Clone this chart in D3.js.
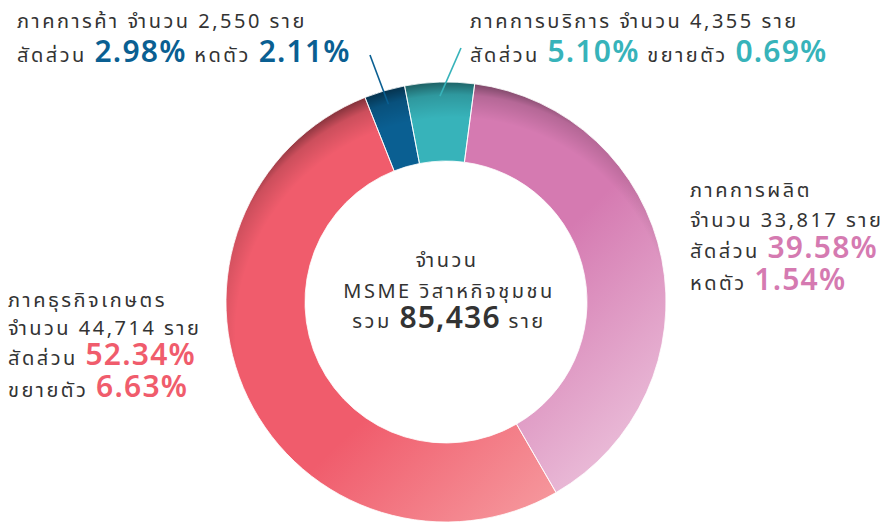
<!DOCTYPE html>
<html>
<head>
<meta charset="utf-8">
<script src="https://cdn.jsdelivr.net/npm/d3@7"></script>
<style>
  body { margin: 0; background: #fff; }
  svg text { font-family: "Noto Sans Thai", "Noto Sans Thai Looped", "Noto Sans", sans-serif; fill: #333; letter-spacing: 2.5px; }
</style>
</head>
<body>
<div id="chart-area"></div>
<script>
// data
var sectors = ["ภาคการค้า", "ภาคการบริการ", "ภาคการผลิต", "ภาคธุรกิจเกษตร"];
var counts = [2550, 4355, 33817, 44714];
var shares = [2.98, 5.10, 39.58, 52.34];
var growth = [-2.11, 0.69, -1.54, 6.63];
var total = 85436;
var colors = ["#0a5f92", "#37b3ba", "#d57ab1", "#f05c6c"];
var lightColors = ["#0a5f92", "#37b3ba", "#edc6de", "#f7a5a8"];

var width = 890, height = 526;
var cx = 446, cy = 302;
var outerR = 220, innerR = 141;

var svg = d3.select("#chart-area")
    .append("svg")
    .attr("width", width)
    .attr("height", height);

svg.append("rect").attr("width", width).attr("height", height).attr("fill", "#fff");

var defs = svg.append("defs");

// slice gradients (coords relative to the donut centre)
colors.forEach(function(c, i){
    var grad = defs.append("linearGradient")
        .attr("id", "grad" + i)
        .attr("gradientUnits", "userSpaceOnUse")
        .attr("x1", -10).attr("y1", 50)
        .attr("x2", 150).attr("y2", 220);
    grad.append("stop").attr("offset", 0).attr("stop-color", c);
    grad.append("stop").attr("offset", 1).attr("stop-color", lightColors[i]);
});

// rim shadow: circle shifted down so that only the upper rim darkens
var rim = defs.append("radialGradient")
    .attr("id", "rimShade")
    .attr("gradientUnits", "userSpaceOnUse")
    .attr("cx", 8).attr("cy", 34).attr("r", outerR + 34);
rim.append("stop").attr("offset", 0.86).attr("stop-color", "#000").attr("stop-opacity", 0);
rim.append("stop").attr("offset", 0.95).attr("stop-color", "#000").attr("stop-opacity", 0.15);
rim.append("stop").attr("offset", 1).attr("stop-color", "#000").attr("stop-opacity", 0.45);

var startAngle = -21.6 * Math.PI / 180;
var pie = d3.pie()
    .sort(null)
    .value(function(d){ return d; })
    .startAngle(startAngle)
    .endAngle(startAngle + 2 * Math.PI);

var arc = d3.arc().innerRadius(innerR).outerRadius(outerR);
var pointArc = d3.arc().innerRadius(206).outerRadius(206);

var arcs = pie(counts);

var g = svg.append("g").attr("transform", "translate(" + cx + "," + cy + ")");

g.selectAll("path.slice")
    .data(arcs)
    .enter()
    .append("path")
    .attr("class", "slice")
    .attr("d", arc)
    .attr("fill", function(d, i){ return "url(#grad" + i + ")"; });

g.append("path")
    .attr("d", arc({startAngle: 0, endAngle: 2 * Math.PI}))
    .attr("fill", "url(#rimShade)");

// thin white separators
g.selectAll("path.sep")
    .data(arcs)
    .enter()
    .append("path")
    .attr("class", "sep")
    .attr("d", arc)
    .attr("fill", "none")
    .attr("stroke", "#fff")
    .attr("stroke-width", 0.8);

// leader lines for the two small slices
var leaderStarts = [[-76, -247], [15, -254]];
[0, 1].forEach(function(i){
    var p = pointArc.centroid(arcs[i]);
    g.append("line")
        .attr("x1", leaderStarts[i][0]).attr("y1", leaderStarts[i][1])
        .attr("x2", p[0]).attr("y2", p[1])
        .attr("stroke", colors[i])
        .attr("stroke-width", 1.6);
});

// labels
var fmt = d3.format(",");
function growthWord(v){ return v < 0 ? "หดตัว" : "ขยายตัว"; }
function pct(v){ return Math.abs(v).toFixed(2) + "%"; }

var small = 20, big = 30;

function addLines(x, lines){
    lines.forEach(function(ln){
        var t = svg.append("text").attr("x", x).attr("y", ln.y).attr("font-size", small);
        ln.parts.forEach(function(p){
            var s = t.append("tspan").text(p.text);
            if (p.big) {
                s.attr("font-size", big).attr("font-weight", 600)
                 .style("letter-spacing", "1.2px").style("fill", p.color);
            }
        });
    });
}

// trade
addLines(17, [
    {y: 28, parts: [{text: sectors[0] + " จำนวน " + fmt(counts[0]) + " ราย"}]},
    {y: 62, parts: [{text: "สัดส่วน "}, {text: pct(shares[0]), big: true, color: colors[0]},
                    {text: " " + growthWord(growth[0]) + " "}, {text: pct(growth[0]), big: true, color: colors[0]}]}
]);
// services
addLines(470, [
    {y: 28, parts: [{text: sectors[1] + " จำนวน " + fmt(counts[1]) + " ราย"}]},
    {y: 62, parts: [{text: "สัดส่วน "}, {text: pct(shares[1]), big: true, color: colors[1]},
                    {text: " " + growthWord(growth[1]) + " "}, {text: pct(growth[1]), big: true, color: colors[1]}]}
]);
// manufacturing
addLines(690, [
    {y: 197, parts: [{text: sectors[2]}]},
    {y: 227, parts: [{text: "จำนวน " + fmt(counts[2]) + " ราย"}]},
    {y: 258, parts: [{text: "สัดส่วน "}, {text: pct(shares[2]), big: true, color: colors[2]}]},
    {y: 290, parts: [{text: growthWord(growth[2]) + " "}, {text: pct(growth[2]), big: true, color: colors[2]}]}
]);
// agriculture
addLines(8, [
    {y: 307, parts: [{text: sectors[3]}]},
    {y: 335, parts: [{text: "จำนวน " + fmt(counts[3]) + " ราย"}]},
    {y: 365, parts: [{text: "สัดส่วน "}, {text: pct(shares[3]), big: true, color: colors[3]}]},
    {y: 397, parts: [{text: growthWord(growth[3]) + " "}, {text: pct(growth[3]), big: true, color: colors[3]}]}
]);

// centre
var centre = svg.append("g").attr("text-anchor", "middle");
centre.append("text").attr("x", cx + 1).attr("y", 267).attr("font-size", small).text("จำนวน");
centre.append("text").attr("x", cx + 3).attr("y", 298).attr("font-size", small).text("MSME วิสาหกิจชุมชน");
var tot = centre.append("text").attr("x", cx + 3).attr("y", 328).attr("font-size", small);
tot.append("tspan").text("รวม ");
tot.append("tspan").attr("font-size", big).attr("font-weight", 600).style("letter-spacing", "1.2px").text(fmt(total));
tot.append("tspan").text(" ราย");
</script>
</body>
</html>
